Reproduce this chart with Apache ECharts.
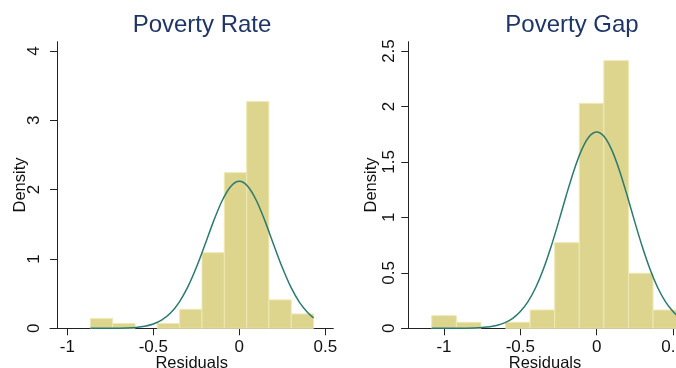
<!DOCTYPE html>
<html><head><meta charset="utf-8">
<script src="https://cdn.jsdelivr.net/npm/echarts@6/dist/echarts.min.js"></script>
<style>html,body{margin:0;padding:0;background:#fff;overflow:hidden}#c{width:676px;height:368px}</style>
</head><body><div id="c"></div>
<script>
const titles = ['Poverty Rate', 'Poverty Gap'];
const xAxisName = 'Residuals';
const yAxisName = 'Density';

const rateBinEdges = [-0.866, -0.736, -0.606, -0.477, -0.347, -0.217, -0.087, 0.043, 0.172, 0.302, 0.432];
const rateDensity  = [0.14, 0.07, 0, 0.07, 0.274, 1.09, 2.245, 3.27, 0.41, 0.207];
const gapBinEdges  = [-1.080, -0.919, -0.758, -0.597, -0.436, -0.275, -0.114, 0.047, 0.208, 0.369, 0.530];
const gapDensity   = [0.114, 0.054, 0, 0.054, 0.165, 0.772, 2.028, 2.413, 0.496, 0.165];

const rateCurveX = [-0.866, -0.8, -0.75, -0.7, -0.65, -0.6, -0.55, -0.5, -0.45, -0.4, -0.35, -0.3, -0.25, -0.2, -0.15, -0.1, -0.05, 0, 0.05, 0.1, 0.15, 0.2, 0.25, 0.3, 0.35, 0.4, 0.432];
const rateCurveY = [0.000, 0.000, 0.001, 0.002, 0.005, 0.013, 0.029, 0.061, 0.121, 0.220, 0.375, 0.593, 0.876, 1.204, 1.542, 1.840, 2.046, 2.12, 2.046, 1.840, 1.542, 1.204, 0.876, 0.593, 0.375, 0.220, 0.151];
const gapCurveX = [-1.08, -1.0, -0.9, -0.8, -0.75, -0.7, -0.65, -0.6, -0.55, -0.5, -0.45, -0.4, -0.35, -0.3, -0.25, -0.2, -0.15, -0.1, -0.05, 0, 0.05, 0.1, 0.15, 0.2, 0.25, 0.3, 0.35, 0.4, 0.45, 0.5, 0.53];
const gapCurveY = [0.000, 0.000, 0.001, 0.003, 0.007, 0.014, 0.028, 0.051, 0.090, 0.151, 0.241, 0.366, 0.530, 0.730, 0.957, 1.195, 1.419, 1.604, 1.727, 1.77, 1.727, 1.604, 1.419, 1.195, 0.957, 0.730, 0.530, 0.366, 0.241, 0.151, 0.112];

const rateXTicks = [-1, -0.5, 0, 0.5];
const rateYTicks = [0, 1, 2, 3, 4];
const gapXTicks = [-1, -0.5, 0, 0.5];
const gapYTicks = [0, 0.5, 1, 1.5, 2, 2.5];

const FONT = 'Liberation Sans, Arial, sans-serif';
const BAR_FILL = '#ddd48d', BAR_EDGE = '#eee8b4', LINE = '#2b7a71', AXIS = '#222';

function bins(edges, dens) {
  return dens.map((d, i) => [edges[i], edges[i + 1], d]);
}
function pairs(xs, ys) { return xs.map((x, i) => [x, ys[i]]); }

function histItem(params, api) {
  const y = api.value(2);
  if (!y) return null;
  const p0 = api.coord([api.value(0), y]);
  const p1 = api.coord([api.value(1), 0]);
  return {
    type: 'rect',
    shape: { x: p0[0], y: p0[1], width: p1[0] - p0[0], height: p1[1] - p0[1] },
    style: { fill: BAR_FILL, stroke: BAR_EDGE, lineWidth: 1 }
  };
}

function xAxisCfg(idx, min, max, ticks) {
  return {
    type: 'value', gridIndex: idx, min: min, max: max,
    name: xAxisName, nameLocation: 'middle', nameGap: 27, nameMoveOverlap: false,
    nameTextStyle: { fontFamily: FONT, fontSize: 16.5, color: '#111' },
    axisLine: { show: true, onZero: false, lineStyle: { color: AXIS, width: 1 } },
    axisTick: { show: true, length: 7, customValues: ticks, lineStyle: { color: AXIS } },
    axisLabel: { customValues: ticks, margin: 11, fontFamily: FONT, fontSize: 17, color: '#111' },
    splitLine: { show: false }
  };
}
function yAxisCfg(idx, max, ticks, offset, margin) {
  return {
    type: 'value', gridIndex: idx, min: 0, max: max, offset: offset,
    name: yAxisName, nameLocation: 'middle', nameGap: 28, nameRotate: 90, nameMoveOverlap: false,
    nameTextStyle: { fontFamily: FONT, fontSize: 16.5, color: '#111' },
    axisLine: { show: true, onZero: false, lineStyle: { color: AXIS, width: 1 } },
    axisTick: { show: true, length: 7, customValues: ticks, lineStyle: { color: AXIS } },
    axisLabel: { customValues: ticks, rotate: 90, margin: margin, fontFamily: FONT, fontSize: 17, color: '#111' },
    splitLine: { show: false }
  };
}

const chart = echarts.init(document.getElementById('c'), null, { renderer: 'canvas' });
chart.setOption({
  animation: false,
  backgroundColor: '#fff',
  title: [
    { text: titles[0], left: 197, top: 8, textAlign: 'center', textStyle: { fontFamily: FONT, fontSize: 24, fontWeight: 'normal', color: '#1f3566' } },
    { text: titles[1], left: 567, top: 8, textAlign: 'center', textStyle: { fontFamily: FONT, fontSize: 24, fontWeight: 'normal', color: '#1f3566' } }
  ],
  grid: [
    { left: 50, top: 41.7, width: 283.3, height: 286.6, containLabel: false, outerBoundsMode: 'none' },
    { left: 401.7, top: 41.7, width: 286.6, height: 286.6, containLabel: false, outerBoundsMode: 'none' }
  ],
  xAxis: [
    xAxisCfg(0, -1.1006, 0.5465, rateXTicks),
    xAxisCfg(1, -1.277, 0.6, gapXTicks)
  ],
  yAxis: [
    yAxisCfg(0, 4.134, rateYTicks, -7, 14),
    yAxisCfg(1, 2.584, gapYTicks, -6.6, 10)
  ],
  series: [
    { type: 'custom', xAxisIndex: 0, yAxisIndex: 0, renderItem: histItem, data: bins(rateBinEdges, rateDensity), encode: { x: [0, 1], y: 2 } },
    { type: 'line', xAxisIndex: 0, yAxisIndex: 0, data: pairs(rateCurveX, rateCurveY), smooth: 0.3, symbol: 'none', lineStyle: { color: LINE, width: 1.5 }, z: 3 },
    { type: 'custom', xAxisIndex: 1, yAxisIndex: 1, renderItem: histItem, data: bins(gapBinEdges, gapDensity), encode: { x: [0, 1], y: 2 } },
    { type: 'line', xAxisIndex: 1, yAxisIndex: 1, data: pairs(gapCurveX, gapCurveY), smooth: 0.3, symbol: 'none', lineStyle: { color: LINE, width: 1.5 }, z: 3 }
  ]
});
</script>
</body></html>
